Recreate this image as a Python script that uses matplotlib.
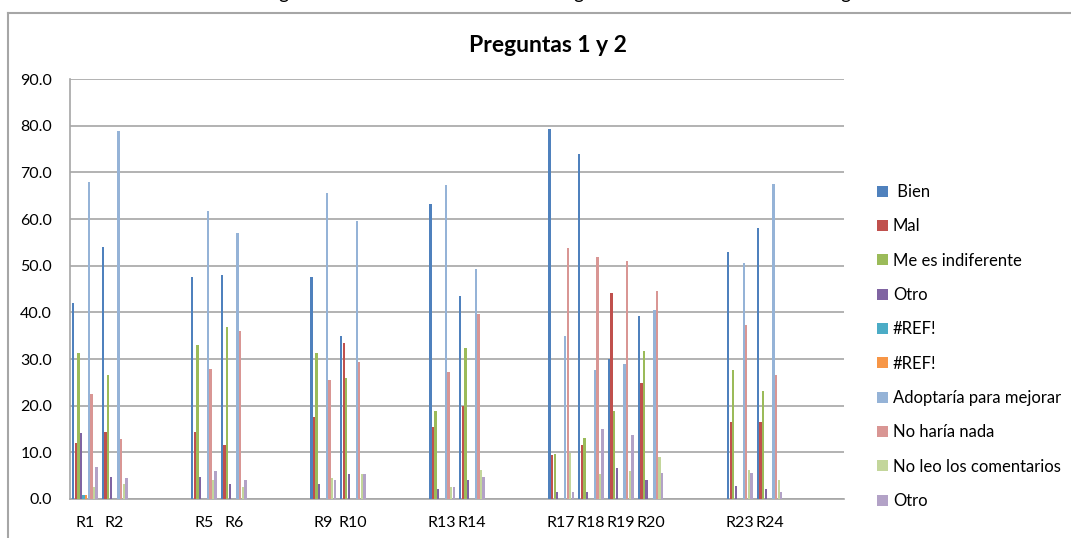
import numpy as np
import matplotlib
matplotlib.use("Agg")
import matplotlib.pyplot as plt
from matplotlib.lines import Line2D

plt.rcParams['font.family'] = ['Lato', 'DejaVu Sans']

categories = ['R1', 'R2', '', '', 'R5', 'R6', '', '', 'R9', 'R10', '', '', 'R13', 'R14',
              '', '', 'R17', 'R18', 'R19', 'R20', '', '', 'R23', 'R24', '', '']

N = np.nan
bien        = [42.1, 54.0, N, N, 47.5, 47.9, N, N, 47.5, 34.9, N, N, 63.2, 43.4, N, N, 79.3, 73.9, 29.9, 39.3, N, N, 53.0, 58.1, N, N]
mal         = [12.1, 14.4, N, N, 14.4, 11.6, N, N, 17.6, 33.4, N, N, 15.5, 19.9, N, N, 9.5, 11.6, 44.1, 24.8, N, N, 16.5, 16.4, N, N]
indiferente = [31.2, 26.6, N, N, 33.0, 36.9, N, N, 31.2, 26.0, N, N, 18.9, 32.3, N, N, 9.6, 13.0, 18.9, 31.7, N, N, 27.6, 23.2, N, N]
otro1       = [14.2, 4.7, N, N, 4.7, 3.3, N, N, 3.3, 5.4, N, N, 2.1, 4.1, N, N, 1.4, 1.4, 6.7, 4.1, N, N, 2.7, 2.1, N, N]
ref1        = [0.9, 0, N, N, 0, 0, N, N, 0, 0, N, N, 0, 0, N, N, 0, 0, 0, 0, N, N, 0, 0, N, N]
ref2        = [0.9, 0, N, N, 0, 0, N, N, 0, 0, N, N, 0, 0, N, N, 0, 0, 0, 0, N, N, 0, 0, N, N]
adoptaria   = [68.0, 78.9, N, N, 61.8, 56.9, N, N, 65.5, 59.6, N, N, 67.3, 49.3, N, N, 34.9, 27.6, 28.9, 40.4, N, N, 50.6, 67.6, N, N]
no_haria    = [22.4, 12.9, N, N, 27.9, 36.1, N, N, 25.5, 29.4, N, N, 27.2, 39.6, N, N, 53.7, 51.8, 51.1, 44.6, N, N, 37.3, 26.6, N, N]
no_leo      = [2.6, 3.3, N, N, 4.0, 2.6, N, N, 4.6, 5.4, N, N, 2.6, 6.2, N, N, 9.8, 5.4, 6.1, 9.1, N, N, 6.2, 4.1, N, N]
otro2       = [6.8, 4.6, N, N, 6.0, 4.1, N, N, 4.1, 5.4, N, N, 2.6, 4.8, N, N, 1.4, 15.1, 13.8, 5.5, N, N, 5.5, 1.4, N, N]

series_names = [' Bien', 'Mal', 'Me es indiferente', 'Otro', '#REF!', '#REF!',
                'Adoptaría para mejorar', 'No haría nada', 'No leo los comentarios', 'Otro']
series_values = [bien, mal, indiferente, otro1, ref1, ref2, adoptaria, no_haria, no_leo, otro2]
colors = ['#4F81BD', '#C0504D', '#9BBB59', '#8064A2', '#4BACC6', '#F79646',
          '#95B3D7', '#D99694', '#C3D69B', '#B3A2C7']

W, H = 1071, 538
fig = plt.figure(figsize=(W / 100, H / 100), dpi=100)
ax = fig.add_axes([70 / W, 1 - 499 / H, (844 - 70) / W, (499 - 79) / H])

x = np.arange(len(categories))
slot = 0.0873
bw = 0.078
ns = len(series_values)
handles = []
for i, (name, vals, c) in enumerate(zip(series_names, series_values, colors)):
    offs = (i - (ns - 1) / 2) * slot
    b = ax.bar(x + offs, vals, width=bw, color=c, label=name, zorder=3, linewidth=0)
    handles.append(b)

ax.set_xlim(-0.5, len(categories) - 0.5)
ax.set_ylim(0, 90)
yt = np.arange(0, 91, 10)
ax.set_yticks(yt)
ax.set_yticklabels([f"{v:.1f}" for v in yt], fontsize=11.5)
ax.set_xticks(x)
ax.set_xticklabels(categories, fontsize=11.5)
ax.tick_params(axis='y', length=0, pad=13)
ax.tick_params(axis='x', length=0, pad=12)
ax.yaxis.grid(True, color='#A6A6A6', linewidth=1.2, zorder=0)
ax.set_axisbelow(True)
for s in ['top', 'right']:
    ax.spines[s].set_visible(False)
for s in ['left', 'bottom']:
    ax.spines[s].set_color('#A6A6A6')
    ax.spines[s].set_linewidth(1.2)

fig.text(548 / W, 1 - 45 / H, 'Preguntas 1 y 2', ha='center', va='center',
         fontsize=16.5, fontweight='bold')

leg = fig.legend(handles=handles, labels=series_names, loc='upper left',
                 bbox_to_anchor=(877 / W, 1 - 184 / H), frameon=False,
                 fontsize=12, handlelength=0.65, handleheight=0.65,
                 handletextpad=0.3, labelspacing=1.1, borderaxespad=0, borderpad=0)

# chart outer border
fig.add_artist(Line2D([8 / W, 8 / W], [0, 1 - 13 / H], color='#A6A6A6', lw=1.5))
fig.add_artist(Line2D([8 / W, 1], [1 - 13 / H, 1 - 13 / H], color='#A6A6A6', lw=1.5))

# cut-off document text above the chart (descenders only visible, as in the reference)
for gx in [283, 578, 845]:
    fig.text(gx / W, 1 + 1 / H, 'g', ha='center', va='baseline', fontsize=14)

fig.savefig('out.png', dpi=100)
